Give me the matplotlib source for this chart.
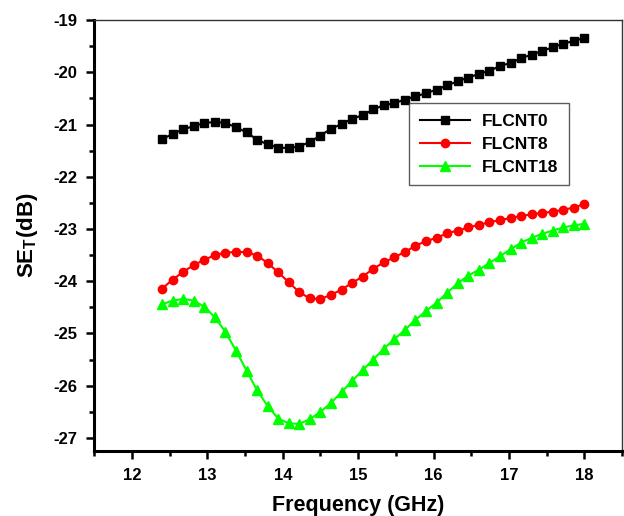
import numpy as np
import matplotlib
matplotlib.use("Agg")
import matplotlib.pyplot as plt
from matplotlib.ticker import MultipleLocator

# Frequency grid (GHz), 41 points from 12.4 to 18.0
freq = np.round(np.linspace(12.4, 18.0, 41), 2)

se_flcnt0 = [-21.28, -21.18, -21.09, -21.03, -20.97, -20.95, -20.97, -21.05, -21.15, -21.29,
             -21.38, -21.44, -21.45, -21.42, -21.33, -21.21, -21.08, -20.99, -20.89, -20.82,
             -20.71, -20.63, -20.59, -20.52, -20.46, -20.40, -20.33, -20.25, -20.17, -20.10,
             -20.03, -19.97, -19.88, -19.82, -19.73, -19.66, -19.59, -19.52, -19.45, -19.40,
             -19.34]
se_flcnt8 = [-24.14, -23.97, -23.82, -23.69, -23.59, -23.50, -23.45, -23.44, -23.44, -23.51,
             -23.65, -23.83, -24.02, -24.21, -24.33, -24.34, -24.26, -24.16, -24.03, -23.91,
             -23.76, -23.64, -23.54, -23.44, -23.32, -23.23, -23.17, -23.08, -23.03, -22.97,
             -22.92, -22.87, -22.83, -22.79, -22.75, -22.72, -22.69, -22.67, -22.63, -22.59,
             -22.52]
se_flcnt18 = [-24.44, -24.37, -24.34, -24.37, -24.49, -24.69, -24.97, -25.33, -25.71, -26.09,
              -26.39, -26.63, -26.72, -26.73, -26.64, -26.50, -26.33, -26.12, -25.91, -25.70,
              -25.50, -25.29, -25.11, -24.93, -24.74, -24.57, -24.41, -24.22, -24.04, -23.89,
              -23.78, -23.65, -23.52, -23.39, -23.26, -23.17, -23.09, -23.03, -22.97, -22.93,
              -22.90]

labels = ["FLCNT0", "FLCNT8", "FLCNT18"]

plt.rcParams['font.family'] = ['Liberation Sans', 'DejaVu Sans']
plt.rcParams['font.weight'] = 'bold'
plt.rcParams['axes.unicode_minus'] = False

fig = plt.figure(figsize=(6.24, 5.16), dpi=100)
ax = fig.add_axes([0.151, 0.126, 0.846, 0.835])

ax.plot(freq, se_flcnt0, color='black', marker='s', markersize=5.5, lw=1.5, label=labels[0])
ax.plot(freq, se_flcnt8, color='#ff0000', marker='o', markersize=6, lw=1.5, label=labels[1])
ax.plot(freq, se_flcnt18, color='#00ff00', marker='^', markersize=6.5, lw=1.5, label=labels[2])

ax.set_xlim(11.5, 18.5)
ax.set_ylim(-27.25, -19)
ax.xaxis.set_major_locator(MultipleLocator(1))
ax.xaxis.set_minor_locator(MultipleLocator(0.5))
ax.yaxis.set_major_locator(MultipleLocator(1))
ax.yaxis.set_minor_locator(MultipleLocator(0.5))

ax.tick_params(which='both', direction='out', top=False, right=False, width=1.8)
ax.tick_params(which='major', length=6, labelsize=12, pad=6)
ax.tick_params(which='minor', length=3.5)
for lbl in ax.get_xticklabels() + ax.get_yticklabels():
    lbl.set_fontweight('bold')

for side in ['left', 'bottom']:
    ax.spines[side].set_linewidth(2.2)
for side in ['top', 'right']:
    ax.spines[side].set_linewidth(1.0)
    ax.spines[side].set_color('#333333')

ax.set_xlabel('Frequency (GHz)', fontsize=15.5, fontweight='bold', labelpad=9)
ax.set_ylabel(r'SE$_\mathregular{T}$(dB)', fontsize=16, fontweight='bold', labelpad=10)

leg = ax.legend(loc='upper left', bbox_to_anchor=(0.597, 0.807), fontsize=12.5,
                frameon=True, fancybox=False, edgecolor='#333333', handlelength=2.9,
                borderpad=0.6, labelspacing=0.45, handletextpad=0.7, borderaxespad=0)
leg.get_frame().set_linewidth(1.0)
for t in leg.get_texts():
    t.set_fontweight('bold')

fig.savefig('out.png', dpi=100)
